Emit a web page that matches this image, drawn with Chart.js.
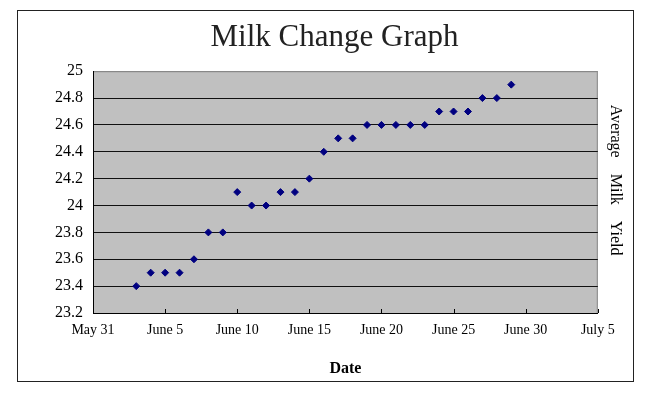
<!DOCTYPE html>
<html>
<head>
<meta charset="utf-8">
<script src="https://cdn.jsdelivr.net/npm/chart.js@4"></script>
<style>
  html, body { margin: 0; padding: 0; background: #fff; }
  #frame {
    position: absolute; left: 17px; top: 10px;
    width: 615px; height: 370px;
    border: 1px solid #222;
  }
  canvas { display: block; }
</style>
</head>
<body>
<div id="frame"><canvas id="chart" width="615" height="370"></canvas></div>
<script>
// days counted from May 31 (May 31 = 0, June 5 = 5 ...)
const days = [3, 4, 5, 6, 7, 8, 9, 10, 11, 12, 13, 14, 15, 16, 17, 18, 19, 20, 21, 22, 23, 24, 25, 26, 27, 28, 29];
const milkYield = [23.4, 23.5, 23.5, 23.5, 23.6, 23.8, 23.8, 24.1, 24.0, 24.0, 24.1, 24.1, 24.2, 24.4, 24.5, 24.5,
                   24.6, 24.6, 24.6, 24.6, 24.6, 24.7, 24.7, 24.7, 24.8, 24.8, 24.9];
const xTickLabels = ['May 31', 'June 5', 'June 10', 'June 15', 'June 20', 'June 25', 'June 30', 'July 5'];

const serif = '"Liberation Serif", "Times New Roman", serif';

// grey plot background + inward ticks on the date axis
const plotArea = {
    id: 'plotArea',
    beforeDraw(chart) {
        const a = chart.chartArea;
        const c = chart.ctx;
        c.save();
        c.fillStyle = '#c0c0c0';
        c.fillRect(a.left, a.top, a.right - a.left, a.bottom - a.top);
        c.strokeStyle = '#888';
        c.lineWidth = 1;
        c.strokeRect(a.left + 0.5, a.top + 0.5, a.right - a.left - 1, a.bottom - a.top);
        c.restore();
    },
    afterDraw(chart) {
        const x = chart.scales.x;
        const c = chart.ctx;
        const bottom = chart.chartArea.bottom;
        c.save();
        c.strokeStyle = '#000';
        c.lineWidth = 1;
        x.ticks.forEach(t => {
            const px = Math.round(x.getPixelForValue(t.value)) + 0.5;
            c.beginPath();
            c.moveTo(px, bottom);
            c.lineTo(px, bottom - 4);
            c.stroke();
        });
        c.restore();
    }
};

new Chart(document.getElementById('chart'), {
    type: 'scatter',
    data: {
        datasets: [{
            label: 'Average Milk Yield',
            data: days.map((d, i) => ({ x: d, y: milkYield[i] })),
            backgroundColor: '#000080',
            borderColor: '#000080',
            pointStyle: 'rectRot',
            pointRadius: 3.5,
            pointHoverRadius: 3.5
        }]
    },
    options: {
        responsive: false,
        animation: false,
        layout: { padding: { left: 18, right: 0, top: 0, bottom: 3 } },
        plugins: {
            legend: { display: false },
            tooltip: { enabled: false },
            title: {
                display: true,
                text: 'Milk Change Graph',
                color: '#222',
                font: { family: serif, size: 31, weight: 'normal' },
                padding: { top: 8, bottom: 15 }
            }
        },
        scales: {
            x: {
                type: 'linear',
                min: 0,
                max: 35,
                ticks: {
                    stepSize: 5,
                    color: '#000',
                    font: { family: serif, size: 14 },
                    padding: 9,
                    maxRotation: 0,
                    autoSkip: false,
                    callback: (v) => xTickLabels[v / 5]
                },
                grid: { display: false, drawTicks: false },
                border: { display: true, color: '#000', width: 1 },
                title: {
                    display: true,
                    text: 'Date',
                    color: '#000',
                    font: { family: serif, size: 16, weight: 'bold' },
                    padding: { top: 11, bottom: 0 }
                }
            },
            y: {
                min: 23.2,
                max: 25,
                afterFit: (scale) => { scale.width += 9; },
                ticks: {
                    stepSize: 0.2,
                    autoSkip: false,
                    color: '#000',
                    font: { family: serif, size: 16 },
                    padding: 10,
                    callback: (v) => String(parseFloat(v.toFixed(1)))
                },
                grid: {
                    drawTicks: false,
                    color: (ctx) => ctx.tick && ctx.tick.value >= 25 ? '#888' : '#111',
                    lineWidth: 1
                },
                border: { display: true, color: '#000', width: 1 }
            },
            y2: {
                position: 'right',
                min: 23.2,
                max: 25,
                ticks: { display: false },
                grid: { display: false, drawTicks: false },
                border: { display: false },
                title: {
                    display: true,
                    text: 'Average    Milk    Yield      ',
                    color: '#000',
                    font: { family: serif, size: 16 },
                    padding: { top: 8, bottom: 8 }
                }
            }
        }
    },
    plugins: [plotArea]
});
</script>
</body>
</html>
